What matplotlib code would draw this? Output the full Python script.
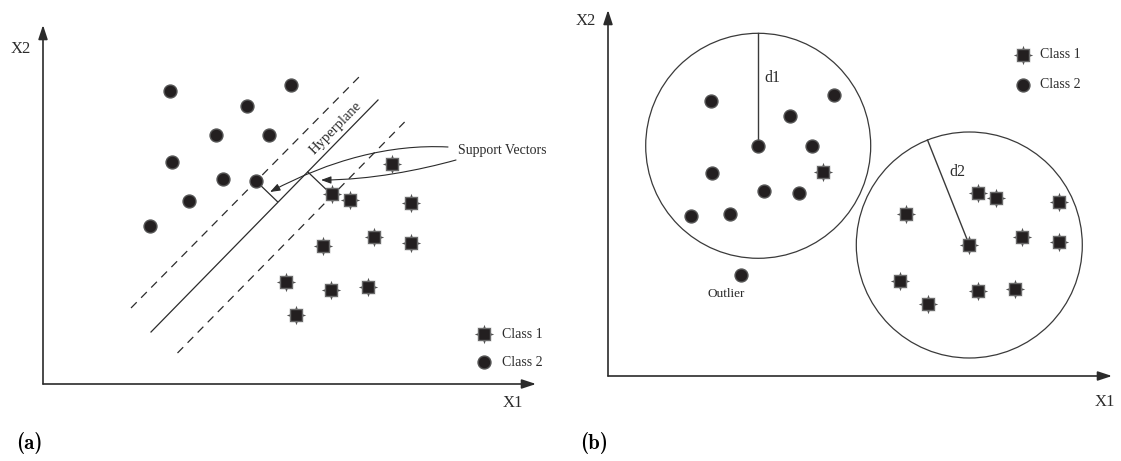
import numpy as np
import matplotlib.pyplot as plt
from matplotlib.path import Path
from matplotlib.patches import Circle, FancyArrowPatch

plt.rcParams['font.family'] = ['Liberation Serif', 'DejaVu Serif']

# ---- (a) linear SVM: points in X1/X2 units, origin at the axis corner ----
a_c1_x = [349, 289, 307, 368, 280, 331, 368, 243, 288, 325, 253]
a_c1_y = [220, 190, 184, 181, 138, 147, 141, 102, 94, 97, 69]
a_c2_x = [127, 248, 204, 173, 226, 129, 180, 213, 146, 107]
a_c2_y = [293, 299, 278, 249, 249, 222, 205, 203, 183, 158]

# hyperplane and margins (start / end points)
hyper_x = [108, 335]
hyper_y = [52, 284]
margin_up_x = [88, 316]
margin_up_y = [76, 307]
margin_lo_x = [134.5, 361.6]
margin_lo_y = [31, 262]

# perpendiculars from support vectors to the hyperplane
perp1_x = [213, 234.5]
perp1_y = [203, 182.3]
perp2_x = [264.9, 282.7]
perp2_y = [212, 195]

# ---- (b) two enclosing spheres ----
b_c1_x = [215, 369.5, 388.4, 451, 297.7, 413.8, 361.3, 451, 292, 320, 369.5, 407.4]
b_c1_y = [204.3, 183.3, 178, 174, 162, 139, 131, 133.7, 95.3, 72, 84.7, 87.3]
b_c2_x = [102.7, 225.9, 182, 150.2, 203.8, 104.1, 155.9, 190.9, 82.7, 121.6]
b_c2_y = [274.7, 280.7, 260.3, 230.3, 230.3, 202.7, 184.7, 183, 159.7, 162.3]
outlier = (133.4, 101.3)

centers = [(150.2, 230.2), (361.3, 131)]
radii = [112.5, 113]
radius_angles = [90, 111.7]
radius_labels = ['d1', 'd2']
radius_label_pos = [(164.5, 297.7), (349.5, 204.3)]

DARK = '#231f20'
EDGE = '#6a6a6a'
INK = '#2b2b2b'


def class1(ax, x, y):
    # square with small spikes: grey 8-point star under a dark square
    ax.plot(x, y, ls='none', marker=(8, 1, 0), ms=14, color='#555555', mew=0, zorder=4)
    ax.plot(x, y, ls='none', marker='s', ms=8.2, mfc=DARK, mec=EDGE, mew=1.0, zorder=5)


def class2(ax, x, y):
    ax.plot(x, y, ls='none', marker='o', ms=9.3, mfc=DARK, mec='#555555', mew=1.0, zorder=5)


def axes_arrows(ax, xtip, ytip):
    style = '-|>,head_length=0.85,head_width=0.28'
    for tip in [(xtip, 0), (0, ytip)]:
        ax.annotate('', xy=tip, xytext=(0, 0),
                    arrowprops=dict(arrowstyle=style, lw=1.2, color=INK,
                                    mutation_scale=10, shrinkA=0, shrinkB=0))


def legend(ax, x, y, xt):
    class1(ax, [x], [y[0]])
    class2(ax, [x], [y[1]])
    ax.text(xt, y[0], 'Class 1', fontsize=10, va='center', color=INK)
    ax.text(xt, y[1], 'Class 2', fontsize=10, va='center', color=INK)


fig = plt.figure(figsize=(11.21, 4.61), dpi=100)

# (a)
ax = fig.add_axes([0, 0, 560 / 1121, 1])
ax.set_xlim(-43, 517)
ax.set_ylim(-77, 384)
ax.axis('off')
axes_arrows(ax, 493, 359)
ax.text(-22.6, 335, 'X2', fontsize=12, ha='center', va='center', color=INK)
ax.text(469.5, -18.5, 'X1', fontsize=12, ha='center', va='center', color=INK)
ax.text(-14, -59, '(a)', family='cmb10', fontsize=15, ha='center', va='center')

ax.plot(hyper_x, hyper_y, color=INK, lw=0.9)
ax.plot(margin_up_x, margin_up_y, color=INK, lw=0.9, ls=(0, (6.5, 5)))
ax.plot(margin_lo_x, margin_lo_y, color=INK, lw=0.9, ls=(0, (6.5, 5)))
ax.plot(perp1_x, perp1_y, color=INK, lw=0.9)
ax.plot(perp2_x, perp2_y, color=INK, lw=0.9)
ax.text(293, 256, 'Hyperplane', fontsize=10.5, rotation=45.6,
        ha='center', va='center', color=INK, rotation_mode='anchor')

class1(ax, a_c1_x, a_c1_y)
class2(ax, a_c2_x, a_c2_y)

ax.text(415, 233.5, 'Support Vectors', fontsize=10, va='center', color=INK)
sv_paths = [
    [(405, 237), (347, 240), (287, 224), (227, 192)],
    [(413, 224), (377, 214), (327, 204), (278, 204)],
]
codes = [Path.MOVETO, Path.CURVE4, Path.CURVE4, Path.CURVE4]
for verts in sv_paths:
    ax.add_patch(FancyArrowPatch(path=Path(verts, codes),
                                 arrowstyle='-|>,head_length=0.6,head_width=0.22',
                                 mutation_scale=10, lw=0.8, color=INK))

legend(ax, 441, [50, 22], 459)

# (b)
ax = fig.add_axes([560 / 1121, 0, 561 / 1121, 1])
ax.set_xlim(-48, 513)
ax.set_ylim(-85, 376)
ax.axis('off')
axes_arrows(ax, 504, 366)
ax.text(-22.3, 355, 'X2', fontsize=12, ha='center', va='center', color=INK)
ax.text(496.6, -26, 'X1', fontsize=12, ha='center', va='center', color=INK)
ax.text(-14, -67, '(b)', family='cmb10', fontsize=15, ha='center', va='center')

for c, r, ang, lab, pos in zip(centers, radii, radius_angles, radius_labels, radius_label_pos):
    ax.add_patch(Circle(c, r, fill=False, ec='#3a3a3a', lw=0.9))
    t = np.deg2rad(ang)
    ax.plot([c[0], c[0] + r * np.cos(t)], [c[1], c[1] + r * np.sin(t)], color='#3a3a3a', lw=1.0)
    ax.text(pos[0], pos[1], lab, fontsize=11.5, ha='center', va='center', color=INK)

class1(ax, b_c1_x, b_c1_y)
class2(ax, b_c2_x, b_c2_y)
class2(ax, [outlier[0]], [outlier[1]])
ax.text(118, 81.7, 'Outlier', fontsize=9.5, ha='center', va='center', color=INK)

legend(ax, 415, [321, 291], 432.4)

fig.savefig('out.png', dpi=100)
